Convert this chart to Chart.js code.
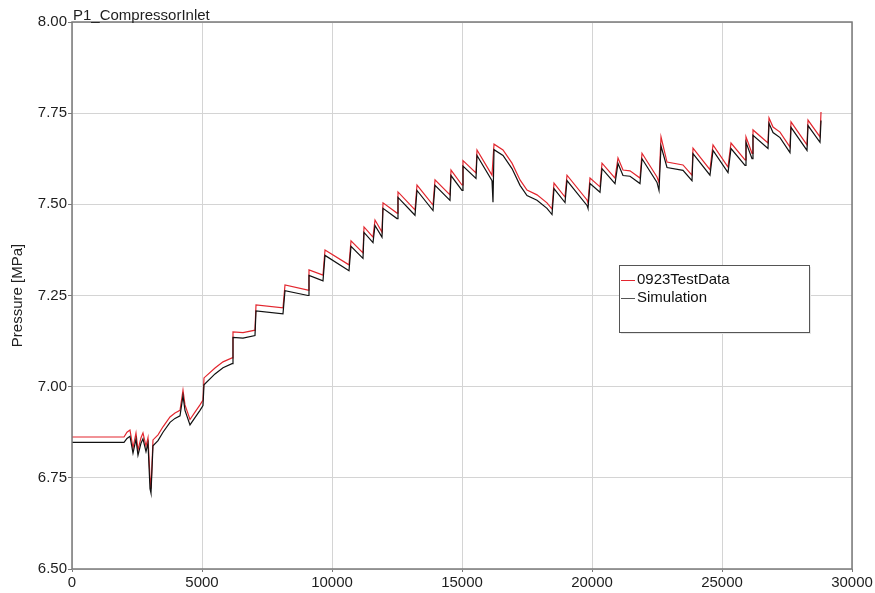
<!DOCTYPE html>
<html>
<head>
<meta charset="utf-8">
<style>
  html, body { margin: 0; padding: 0; background: #fff; }
  #wrap { width: 875px; height: 593px; }
</style>
<script src="https://cdn.jsdelivr.net/npm/chart.js@4/dist/chart.umd.min.js"></script>
</head>
<body>
<div id="wrap"><canvas id="chart" width="875" height="593"></canvas></div>
<script>
const TITLE = 'P1_CompressorInlet';
const Y_TITLE = 'Pressure [MPa]';
const SERIES_NAMES = ['0923TestData', 'Simulation'];

const timeValues = [
    0, 2000, 2115, 2230, 2346, 2461, 2538, 2654, 2730, 2846,
    2923, 3000, 3038, 3115, 3308, 3500, 3769, 3961, 4154, 4269,
    4346, 4538, 4730, 4923, 5038, 5077, 5500, 5808, 6154, 6192,
    6577, 7038, 7077, 8115, 8192, 9077, 9115, 9654, 9731, 10654,
    10731, 11192, 11231, 11577, 11654, 11923, 11962, 12500, 12538, 13192,
    13269, 13885, 13962, 14538, 14577, 15000, 15038, 15538, 15577, 16154,
    16192, 16231, 16577, 16923, 17231, 17500, 17885, 18269, 18462, 18538,
    18962, 19038, 19808, 19846, 19923, 20308, 20385, 20885, 21000, 21192,
    21462, 21846, 21923, 22500, 22577, 22654, 22885, 23500, 23846, 23885,
    24538, 24654, 25231, 25346, 25885, 25923, 26154, 26192, 26769, 26808,
    26962, 27231, 27615, 27654, 28269, 28308, 28769, 28808,
];

const testData = [
    6.862, 6.862, 6.875, 6.881, 6.832, 6.873, 6.826, 6.860, 6.873, 6.837,
    6.860, 6.750, 6.720, 6.854, 6.868, 6.890, 6.917, 6.928, 6.935, 6.990,
    6.950, 6.910, 6.930, 6.950, 6.963, 7.024, 7.051, 7.068, 7.079, 7.150,
    7.148, 7.155, 7.224, 7.216, 7.279, 7.265, 7.320, 7.306, 7.375, 7.334,
    7.400, 7.367, 7.438, 7.410, 7.457, 7.424, 7.504, 7.476, 7.534, 7.485,
    7.553, 7.498, 7.567, 7.526, 7.594, 7.553, 7.620, 7.586, 7.649, 7.580,
    7.580, 7.665, 7.649, 7.613, 7.567, 7.539, 7.526, 7.504, 7.487, 7.558,
    7.520, 7.580, 7.512, 7.504, 7.572, 7.548, 7.613, 7.572, 7.627, 7.594,
    7.592, 7.572, 7.640, 7.575, 7.560, 7.685, 7.616, 7.608, 7.580, 7.654,
    7.595, 7.663, 7.602, 7.668, 7.622, 7.685, 7.640, 7.704, 7.668, 7.737,
    7.712, 7.698, 7.657, 7.726, 7.663, 7.731, 7.685, 7.753,
];

const simulation = [
    6.847, 6.847, 6.858, 6.864, 6.818, 6.856, 6.812, 6.845, 6.857, 6.822,
    6.845, 6.720, 6.708, 6.838, 6.852, 6.875, 6.902, 6.913, 6.920, 6.975,
    6.935, 6.895, 6.915, 6.935, 6.948, 7.005, 7.035, 7.052, 7.063, 7.135,
    7.133, 7.140, 7.208, 7.200, 7.263, 7.250, 7.305, 7.290, 7.360, 7.318,
    7.385, 7.352, 7.423, 7.395, 7.442, 7.410, 7.489, 7.461, 7.519, 7.470,
    7.538, 7.483, 7.552, 7.511, 7.579, 7.538, 7.605, 7.571, 7.634, 7.565,
    7.506, 7.650, 7.634, 7.598, 7.552, 7.524, 7.511, 7.489, 7.472, 7.543,
    7.505, 7.565, 7.497, 7.489, 7.557, 7.533, 7.598, 7.557, 7.612, 7.579,
    7.577, 7.557, 7.625, 7.560, 7.538, 7.660, 7.601, 7.593, 7.565, 7.639,
    7.580, 7.648, 7.587, 7.653, 7.607, 7.670, 7.625, 7.689, 7.653, 7.722,
    7.697, 7.683, 7.642, 7.711, 7.648, 7.716, 7.670, 7.730,
];

const X_TICKS = [0, 5000, 10000, 15000, 20000, 25000, 30000];
const Y_TICKS = [6.50, 6.75, 7.00, 7.25, 7.50, 7.75, 8.00];

const COLORS = { test: '#e3262e', sim: '#111111', grid: '#d4d4d4', frame: '#7a7a7a', text: '#1e1e1e' };
const FONT = 'Arial, "Liberation Sans", sans-serif';

function toPoints(values) {
    return values.map((v, i) => ({ x: timeValues[i], y: v }));
}

// frame, title, rotated axis title and the boxed legend
const decorations = {
    id: 'decorations',
    afterDraw(chart) {
        const { ctx, chartArea: a } = chart;
        ctx.save();
        ctx.strokeStyle = COLORS.frame;
        ctx.lineWidth = 1.5;
        ctx.strokeRect(a.left, a.top, a.right - a.left, a.bottom - a.top);

        ctx.fillStyle = COLORS.text;
        ctx.font = `15px ${FONT}`;
        ctx.textAlign = 'left';
        ctx.textBaseline = 'alphabetic';
        ctx.fillText(TITLE, a.left + 1, a.top - 2);

        ctx.save();
        ctx.translate(18, (a.top + a.bottom) / 2);
        ctx.rotate(-Math.PI / 2);
        ctx.textAlign = 'center';
        ctx.textBaseline = 'middle';
        ctx.font = `15px ${FONT}`;
        ctx.fillText(Y_TITLE, 0, 0);
        ctx.restore();

        // legend box
        const bx = 619, by = 265, bw = 190, bh = 67;
        ctx.fillStyle = '#e6e6e6';
        ctx.fillRect(bx + 2, by + 2, bw, bh);
        ctx.fillStyle = '#ffffff';
        ctx.fillRect(bx, by, bw, bh);
        ctx.strokeStyle = '#555555';
        ctx.lineWidth = 1;
        ctx.strokeRect(bx + 0.5, by + 0.5, bw, bh);
        const lineColors = [COLORS.test, '#555555'];
        ctx.font = `15px ${FONT}`;
        ctx.textBaseline = 'middle';
        ctx.textAlign = 'left';
        SERIES_NAMES.forEach((name, i) => {
            const y = by + 15 + i * 18;
            ctx.strokeStyle = lineColors[i];
            ctx.beginPath();
            ctx.moveTo(bx + 2, y + 0.5);
            ctx.lineTo(bx + 16, y + 0.5);
            ctx.stroke();
            ctx.fillStyle = '#111111';
            ctx.fillText(name, bx + 18, y);
        });
        ctx.restore();
    },
};

new Chart(document.getElementById('chart'), {
    type: 'line',
    data: {
        datasets: [
            {
                label: SERIES_NAMES[1],
                data: toPoints(simulation),
                borderColor: COLORS.sim,
                borderWidth: 1.2,
                pointRadius: 0,
                tension: 0,
            },
            {
                label: SERIES_NAMES[0],
                data: toPoints(testData),
                borderColor: COLORS.test,
                borderWidth: 1.2,
                pointRadius: 0,
                tension: 0,
            },
        ],
    },
    options: {
        responsive: false,
        animation: false,
        layout: { padding: { top: 22, right: 23, left: 0, bottom: 0 } },
        plugins: { legend: { display: false }, tooltip: { enabled: false } },
        scales: {
            x: {
                type: 'linear',
                min: 0,
                max: 30000,
                afterBuildTicks: (scale) => { scale.ticks = X_TICKS.map((v) => ({ value: v })); },
                afterFit: (scale) => { scale.height = 24; },
                grid: { color: COLORS.grid, tickLength: 3, tickColor: COLORS.frame },
                border: { display: false },
                ticks: {
                    color: COLORS.text,
                    font: { family: FONT, size: 15 },
                    padding: 2,
                    maxRotation: 0,
                    callback: (v) => String(v),
                },
            },
            y: {
                type: 'linear',
                min: 6.5,
                max: 8.0,
                afterBuildTicks: (scale) => { scale.ticks = Y_TICKS.map((v) => ({ value: v })); },
                afterFit: (scale) => { scale.width = 72; },
                grid: { color: COLORS.grid, tickLength: 4, tickColor: COLORS.frame },
                border: { display: false },
                ticks: {
                    color: COLORS.text,
                    font: { family: FONT, size: 15 },
                    padding: 1,
                    callback: (v) => Number(v).toFixed(2),
                },
            },
        },
    },
    plugins: [decorations],
});
</script>
</body>
</html>
